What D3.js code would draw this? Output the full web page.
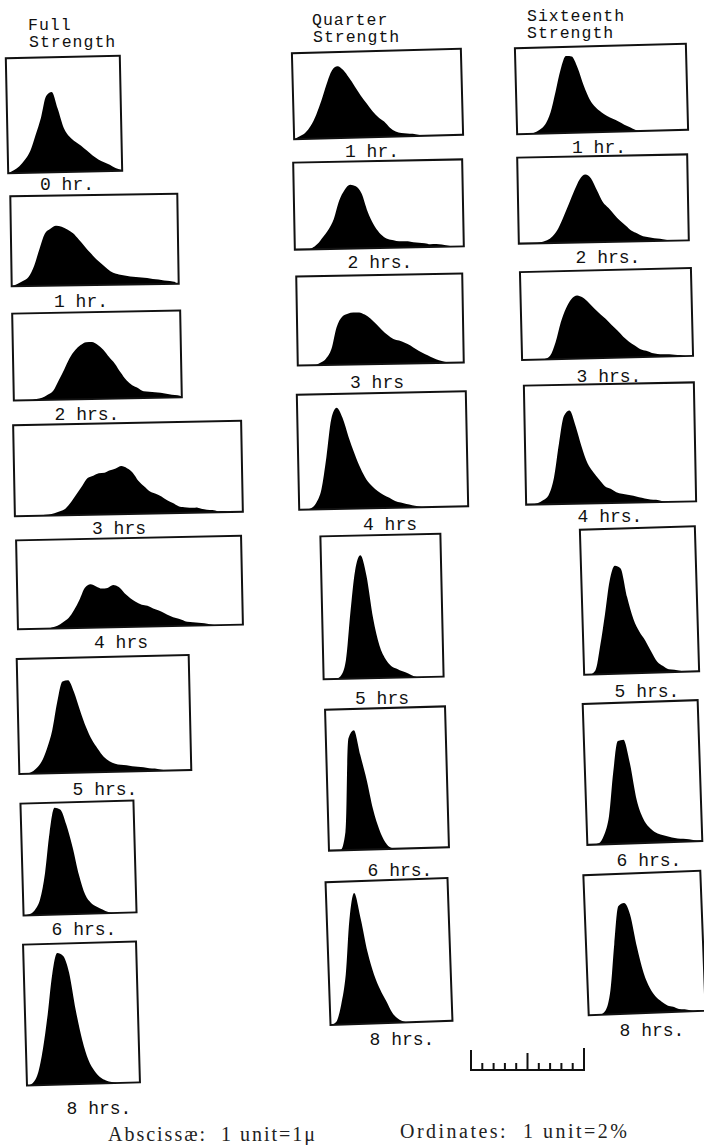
<!DOCTYPE html>
<html>
<head>
<meta charset="utf-8">
<script src="https://cdn.jsdelivr.net/npm/d3@7"></script>
<style>
  body { margin: 0; background: #fff; }
  svg { display: block; }
</style>
</head>
<body>
<div id="chart"></div>
<script>
// size classes in microns (abscissa), one every half micron
const sizes = [0, 0.5, 1, 1.5, 2, 2.5, 3, 3.5, 4, 4.5, 5, 5.5, 6, 6.5, 7, 7.5, 8, 8.5, 9, 9.5,
  10, 10.5, 11, 11.5, 12, 12.5, 13, 13.5, 14, 14.5, 15, 15.5, 16, 16.5, 17, 17.5, 18, 18.5, 19, 19.5, 20];

// percent of cells in each class
const full0 = [0, 0.5, 1.2, 2.3, 3.9, 6.7, 9.7, 13.5, 14.2, 11.2, 7.8, 6.2, 5.3, 4.6, 3.7, 2.8, 2.1, 1.6, 1.1, 0.5, 0.2];
const full1 = [0, 0.4, 0.9, 1.6, 3.5, 6.5, 9.2, 10.1, 10.6, 10.4, 9.9, 9.2, 8.1, 6.9, 5.7, 4.6, 3.7, 2.8, 2.1, 1.8,
  1.6, 1.4, 1.3, 1.2, 1.1, 0.9, 0.8, 0.6, 0.5, 0.3];
const full2 = [0, 0, 0, 0, 0.2, 0.4, 0.9, 1.6, 3.4, 5.3, 7.3, 8.7, 9.6, 10.1, 10.1, 9.6, 8.7, 7.4, 6.2, 4.6,
  3.2, 2.3, 1.8, 1.2, 1.1, 1.0, 0.9, 0.7, 0.5, 0.4, 0];
const full3 = [0, 0, 0, 0, 0, 0.1, 0.2, 0.4, 0.7, 1.2, 2.3, 3.7, 5.1, 6.5, 6.9, 7.3, 7.4, 7.8, 8.1, 8.5,
  8.1, 7.3, 5.8, 4.8, 3.9, 3.5, 3.0, 2.3, 1.8, 1.2, 1.0, 0.9, 0.9, 0.7, 0.5, 0.4, 0.2, 0.2, 0];
const full4 = [0, 0, 0, 0, 0, 0, 0.2, 0.5, 1.1, 1.8, 3.2, 5.0, 7.1, 7.7, 7.3, 6.9, 7.0, 7.5, 7.1, 6.0,
  5.1, 4.4, 3.9, 3.7, 3.2, 2.8, 2.3, 1.8, 1.4, 1.1, 0.7, 0.6, 0.5, 0.4, 0.2, 0];
const full5 = [0, 0, 0.2, 0.9, 2.1, 4.4, 7.6, 12.6, 16.2, 16.4, 14.3, 11.0, 8.0, 5.7, 4.1, 2.7, 1.9, 1.4, 1.2, 1.1,
  0.9, 0.8, 0.7, 0.5, 0.4, 0.2, 0];
const full6 = [0, 0.2, 0.9, 2.8, 7.4, 14.5, 18.9, 18.6, 15.9, 11.9, 6.9, 3.4, 1.9, 1.2, 0.7, 0.2, 0];
const full8 = [0, 0.4, 2.1, 6.4, 12.4, 19.5, 23.3, 22.8, 19.8, 13.1, 7.8, 4.2, 2.3, 1.1, 0.5, 0.2, 0];

const quarter1 = [0, 0.5, 1.1, 2.3, 4.2, 6.7, 9.6, 12.0, 12.7, 12.0, 10.6, 9.0, 7.4, 6.0, 4.6, 3.5, 2.7, 1.6, 0.9, 0.6,
  0.5, 0.4, 0.2, 0];
const quarter2 = [0, 0, 0, 0.2, 0.9, 2.1, 3.4, 5.3, 8.5, 10.4, 11.3, 11.0, 9.7, 6.5, 4.2, 2.7, 1.8, 1.4, 1.2, 1.1,
  1.1, 0.9, 0.8, 0.7, 0.5, 0.5, 0.4, 0.2, 0];
const quarter3 = [0, 0, 0, 0, 0.4, 1.1, 2.8, 6.7, 8.5, 9.0, 9.2, 9.2, 8.8, 8.1, 7.1, 6.0, 5.1, 4.4, 4.1, 3.7,
  3.2, 2.5, 1.9, 1.4, 0.9, 0.5, 0.2, 0];
const quarter4 = [0, 0, 0.2, 1.1, 3.5, 9.2, 15.9, 17.9, 16.1, 12.7, 9.7, 7.1, 5.1, 3.9, 3.0, 2.3, 1.8, 1.2, 0.9, 0.6,
  0.4, 0.2, 0];
const quarter5 = [0, 0, 0, 0.5, 3.2, 11.7, 19.1, 21.8, 18.1, 10.6, 5.8, 3.4, 2.1, 1.6, 1.1, 0.7, 0.2, 0];
const quarter6 = [0, 0, 0, 3.2, 19.8, 21.2, 16.8, 12.4, 7.1, 3.5, 1.2, 0.2, 0];
const quarter8 = [0, 0.5, 3.5, 8.8, 18.6, 23.2, 18.6, 12.7, 8.7, 6.0, 3.9, 1.8, 0.7, 0.2, 0];

const sixteenth1 = [0, 0, 0, 0.2, 0.7, 1.6, 3.7, 7.4, 11.3, 13.6, 13.5, 11.5, 8.3, 5.8, 4.4, 3.5, 2.8, 2.3, 1.8, 1.2,
  0.7, 0.2, 0];
const sixteenth2 = [0, 0, 0, 0, 0.2, 0.5, 1.2, 2.5, 4.6, 6.9, 9.2, 11.2, 12.0, 11.3, 9.2, 7.1, 6.0, 4.8, 3.7, 2.8,
  1.9, 1.4, 0.9, 0.7, 0.5, 0.4, 0.2, 0];
const sixteenth3 = [0, 0, 0, 0, 0.1, 0.7, 3.0, 6.5, 9.0, 10.6, 11.2, 10.8, 9.9, 8.8, 7.8, 6.9, 5.8, 4.8, 3.7, 2.8,
  2.1, 1.4, 1.1, 0.7, 0.5, 0.4, 0.4, 0.3, 0.2, 0];
const sixteenth4 = [0, 0, 0.2, 0.7, 1.6, 4.6, 10.6, 15.6, 16.5, 13.8, 10.1, 7.1, 5.5, 4.2, 3.0, 2.5, 1.9, 1.6, 1.4, 1.2,
  0.9, 0.7, 0.5, 0.4, 0.2, 0];
const sixteenth5 = [0, 0, 0.7, 5.1, 10.6, 16.5, 19.1, 18.6, 13.5, 9.6, 7.3, 5.7, 3.7, 1.9, 1.1, 0.5, 0.4, 0.2, 0];
const sixteenth6 = [0, 0, 0.2, 1.6, 5.0, 12.7, 18.2, 18.4, 14.2, 7.6, 4.4, 2.8, 1.9, 1.4, 1.1, 0.8, 0.6, 0.5, 0.4, 0.2, 0];
const sixteenth8 = [0, 0, 0, 0.7, 4.2, 12.4, 19.1, 19.6, 17.5, 11.7, 7.1, 4.4, 2.8, 1.9, 1.2, 0.9, 0.5, 0.4, 0.2, 0];

// text
const fullTitle = ['Full', 'Strength'];
const quarterTitle = ['Quarter', 'Strength'];
const sixteenthTitle = ['Sixteenth', 'Strength'];
const fullLabels = ['0 hr.', '1 hr.', '2 hrs.', '3 hrs', '4 hrs', '5 hrs.', '6 hrs.', '8 hrs.'];
const quarterLabels = ['1 hr.', '2 hrs.', '3 hrs', '4 hrs', '5 hrs', '6 hrs.', '8 hrs.'];
const sixteenthLabels = ['1 hr.', '2 hrs.', '3 hrs.', '4 hrs.', '5 hrs.', '6 hrs.', '8 hrs.'];
const scaleTicks = [0, 1, 2, 3, 4, 5, 6, 7, 8, 9, 10];
const abscissaNote = 'Abscissæ:  1 unit=1μ';
const ordinateNote = 'Ordinates:  1 unit=2%';

// layout of the plates as pasted on the page: [x, y, width, height, tilt in degrees]
// and label [centre x, baseline]
const fullBoxes = [[7, 57, 114, 115, -1.2], [11, 195, 167, 90, -0.9], [13, 312, 168, 87, -1.1], [14, 423, 228, 91, -1.1],
  [17, 538, 225, 89, -1.2], [18, 657, 172, 115, -1.3], [22, 802, 113, 112, -1.6], [25, 943, 113, 141, -1.6]];
const fullLabelPos = [[67, 190], [81, 307], [87, 420], [119, 534], [121, 648], [105, 795], [84, 935], [99, 1114]];
const quarterBoxes = [[293, 51, 169, 86, -1.5], [294, 161, 169, 87, -1.1], [297, 275, 166, 89, -1.0],
  [298, 393, 169, 115, -1.2], [322, 535, 120, 143, -1.3], [327, 708, 120, 141, -1.6], [328, 880, 122, 143, -2.0]];
const quarterLabelPos = [[372, 157], [380, 268], [377, 388], [390, 530], [382, 704], [400, 876], [402, 1045]];
const sixteenthBoxes = [[516, 46, 171, 86, -1.5], [518, 156, 170, 86, -1.1], [521, 270, 171, 88, -1.4],
  [525, 384, 170, 119, -1.1], [582, 528, 115, 145, -1.7], [585, 702, 115, 141, -1.9], [586, 873, 117, 140, -2.2]];
const sixteenthLabelPos = [[599, 153], [608, 263], [609, 382], [610, 522], [647, 697], [649, 866], [652, 1036]];

const columns = [
  { title: fullTitle, titlePos: [[28, 30], [29, 47]], series: [full0, full1, full2, full3, full4, full5, full6, full8],
    labels: fullLabels, boxes: fullBoxes, labelPos: fullLabelPos },
  { title: quarterTitle, titlePos: [[312, 25], [313, 42]],
    series: [quarter1, quarter2, quarter3, quarter4, quarter5, quarter6, quarter8],
    labels: quarterLabels, boxes: quarterBoxes, labelPos: quarterLabelPos },
  { title: sixteenthTitle, titlePos: [[527, 21], [527, 38]],
    series: [sixteenth1, sixteenth2, sixteenth3, sixteenth4, sixteenth5, sixteenth6, sixteenth8],
    labels: sixteenthLabels, boxes: sixteenthBoxes, labelPos: sixteenthLabelPos },
];

const width = 704;
const height = 1145;
const typewriter = "'Liberation Mono', 'DejaVu Sans Mono', monospace";

// one unit on either axis is the same length on the plates
const unitPx = 11.3;
const x = d3.scaleLinear().domain([0, 1]).range([0, unitPx]);   // microns -> px
const y = d3.scaleLinear().domain([0, 2]).range([0, unitPx]);   // percent -> px (1 unit = 2%)

const svg = d3.select('#chart')
  .append('svg')
  .attr('width', width)
  .attr('height', height);

let clipId = 0;
columns.forEach((col) => {
  // column heading, two lines
  svg.selectAll(null)
    .data(col.title)
    .enter()
    .append('text')
    .attr('x', (d, i) => col.titlePos[i][0])
    .attr('y', (d, i) => col.titlePos[i][1])
    .attr('font-family', typewriter)
    .attr('font-size', 16.5)
    .attr('letter-spacing', 1)
    .attr('fill', '#111')
    .text((d) => d);

  col.series.forEach((values, k) => {
    const [bx, by, bw, bh, tilt] = col.boxes[k];
    // plates are pasted slightly askew; turn each one about its centre
    const g = svg.append('g')
      .attr('transform', `translate(${bx + bw / 2},${by + bh / 2}) rotate(${tilt}) translate(${-bw / 2},${-bh / 2})`);
    const id = 'clip' + (clipId++);

    g.append('clipPath')
      .attr('id', id)
      .append('rect')
      .attr('width', bw)
      .attr('height', bh);

    const area = d3.area()
      .x((d, j) => x(sizes[j]))
      .y0(bh)
      .y1((d) => bh - y(d))
      .curve(d3.curveMonotoneX);

    g.append('path')
      .datum(values)
      .attr('d', area)
      .attr('fill', '#000')
      .attr('clip-path', `url(#${id})`);

    g.append('rect')
      .attr('width', bw)
      .attr('height', bh)
      .attr('fill', 'none')
      .attr('stroke', '#111')
      .attr('stroke-width', 2);

    svg.append('text')
      .attr('x', col.labelPos[k][0])
      .attr('y', col.labelPos[k][1])
      .attr('text-anchor', 'middle')
      .attr('font-family', typewriter)
      .attr('font-size', 18)
      .attr('fill', '#111')
      .text(col.labels[k]);
  });
});

// scale bar: ten units of abscissa
const bar = svg.append('g').attr('transform', 'translate(471,1070)');
bar.append('line')
  .attr('x1', x(scaleTicks[0]) - 1)
  .attr('x2', x(scaleTicks[scaleTicks.length - 1]) + 1)
  .attr('stroke', '#111')
  .attr('stroke-width', 2);
bar.selectAll('.tick')
  .data(scaleTicks)
  .enter()
  .append('line')
  .attr('class', 'tick')
  .attr('x1', (d) => x(d))
  .attr('x2', (d) => x(d))
  .attr('y1', 0)
  .attr('y2', (d) => (d === 0 ? -20 : d === 10 ? -22 : d === 5 ? -17 : -7))
  .attr('stroke', '#111')
  .attr('stroke-width', 2);

// footnotes
svg.append('text')
  .attr('x', 108)
  .attr('y', 1141)
  .attr('font-family', "'Liberation Serif', 'DejaVu Serif', serif")
  .attr('font-size', 20)
  .attr('textLength', 207)
  .attr('lengthAdjust', 'spacing')
  .attr('fill', '#222')
  .style('white-space', 'pre')
  .text(abscissaNote);

svg.append('text')
  .attr('x', 400)
  .attr('y', 1138)
  .attr('font-family', "'Liberation Serif', 'DejaVu Serif', serif")
  .attr('font-size', 20)
  .attr('textLength', 227)
  .attr('lengthAdjust', 'spacing')
  .attr('fill', '#222')
  .style('white-space', 'pre')
  .text(ordinateNote);
</script>
</body>
</html>
